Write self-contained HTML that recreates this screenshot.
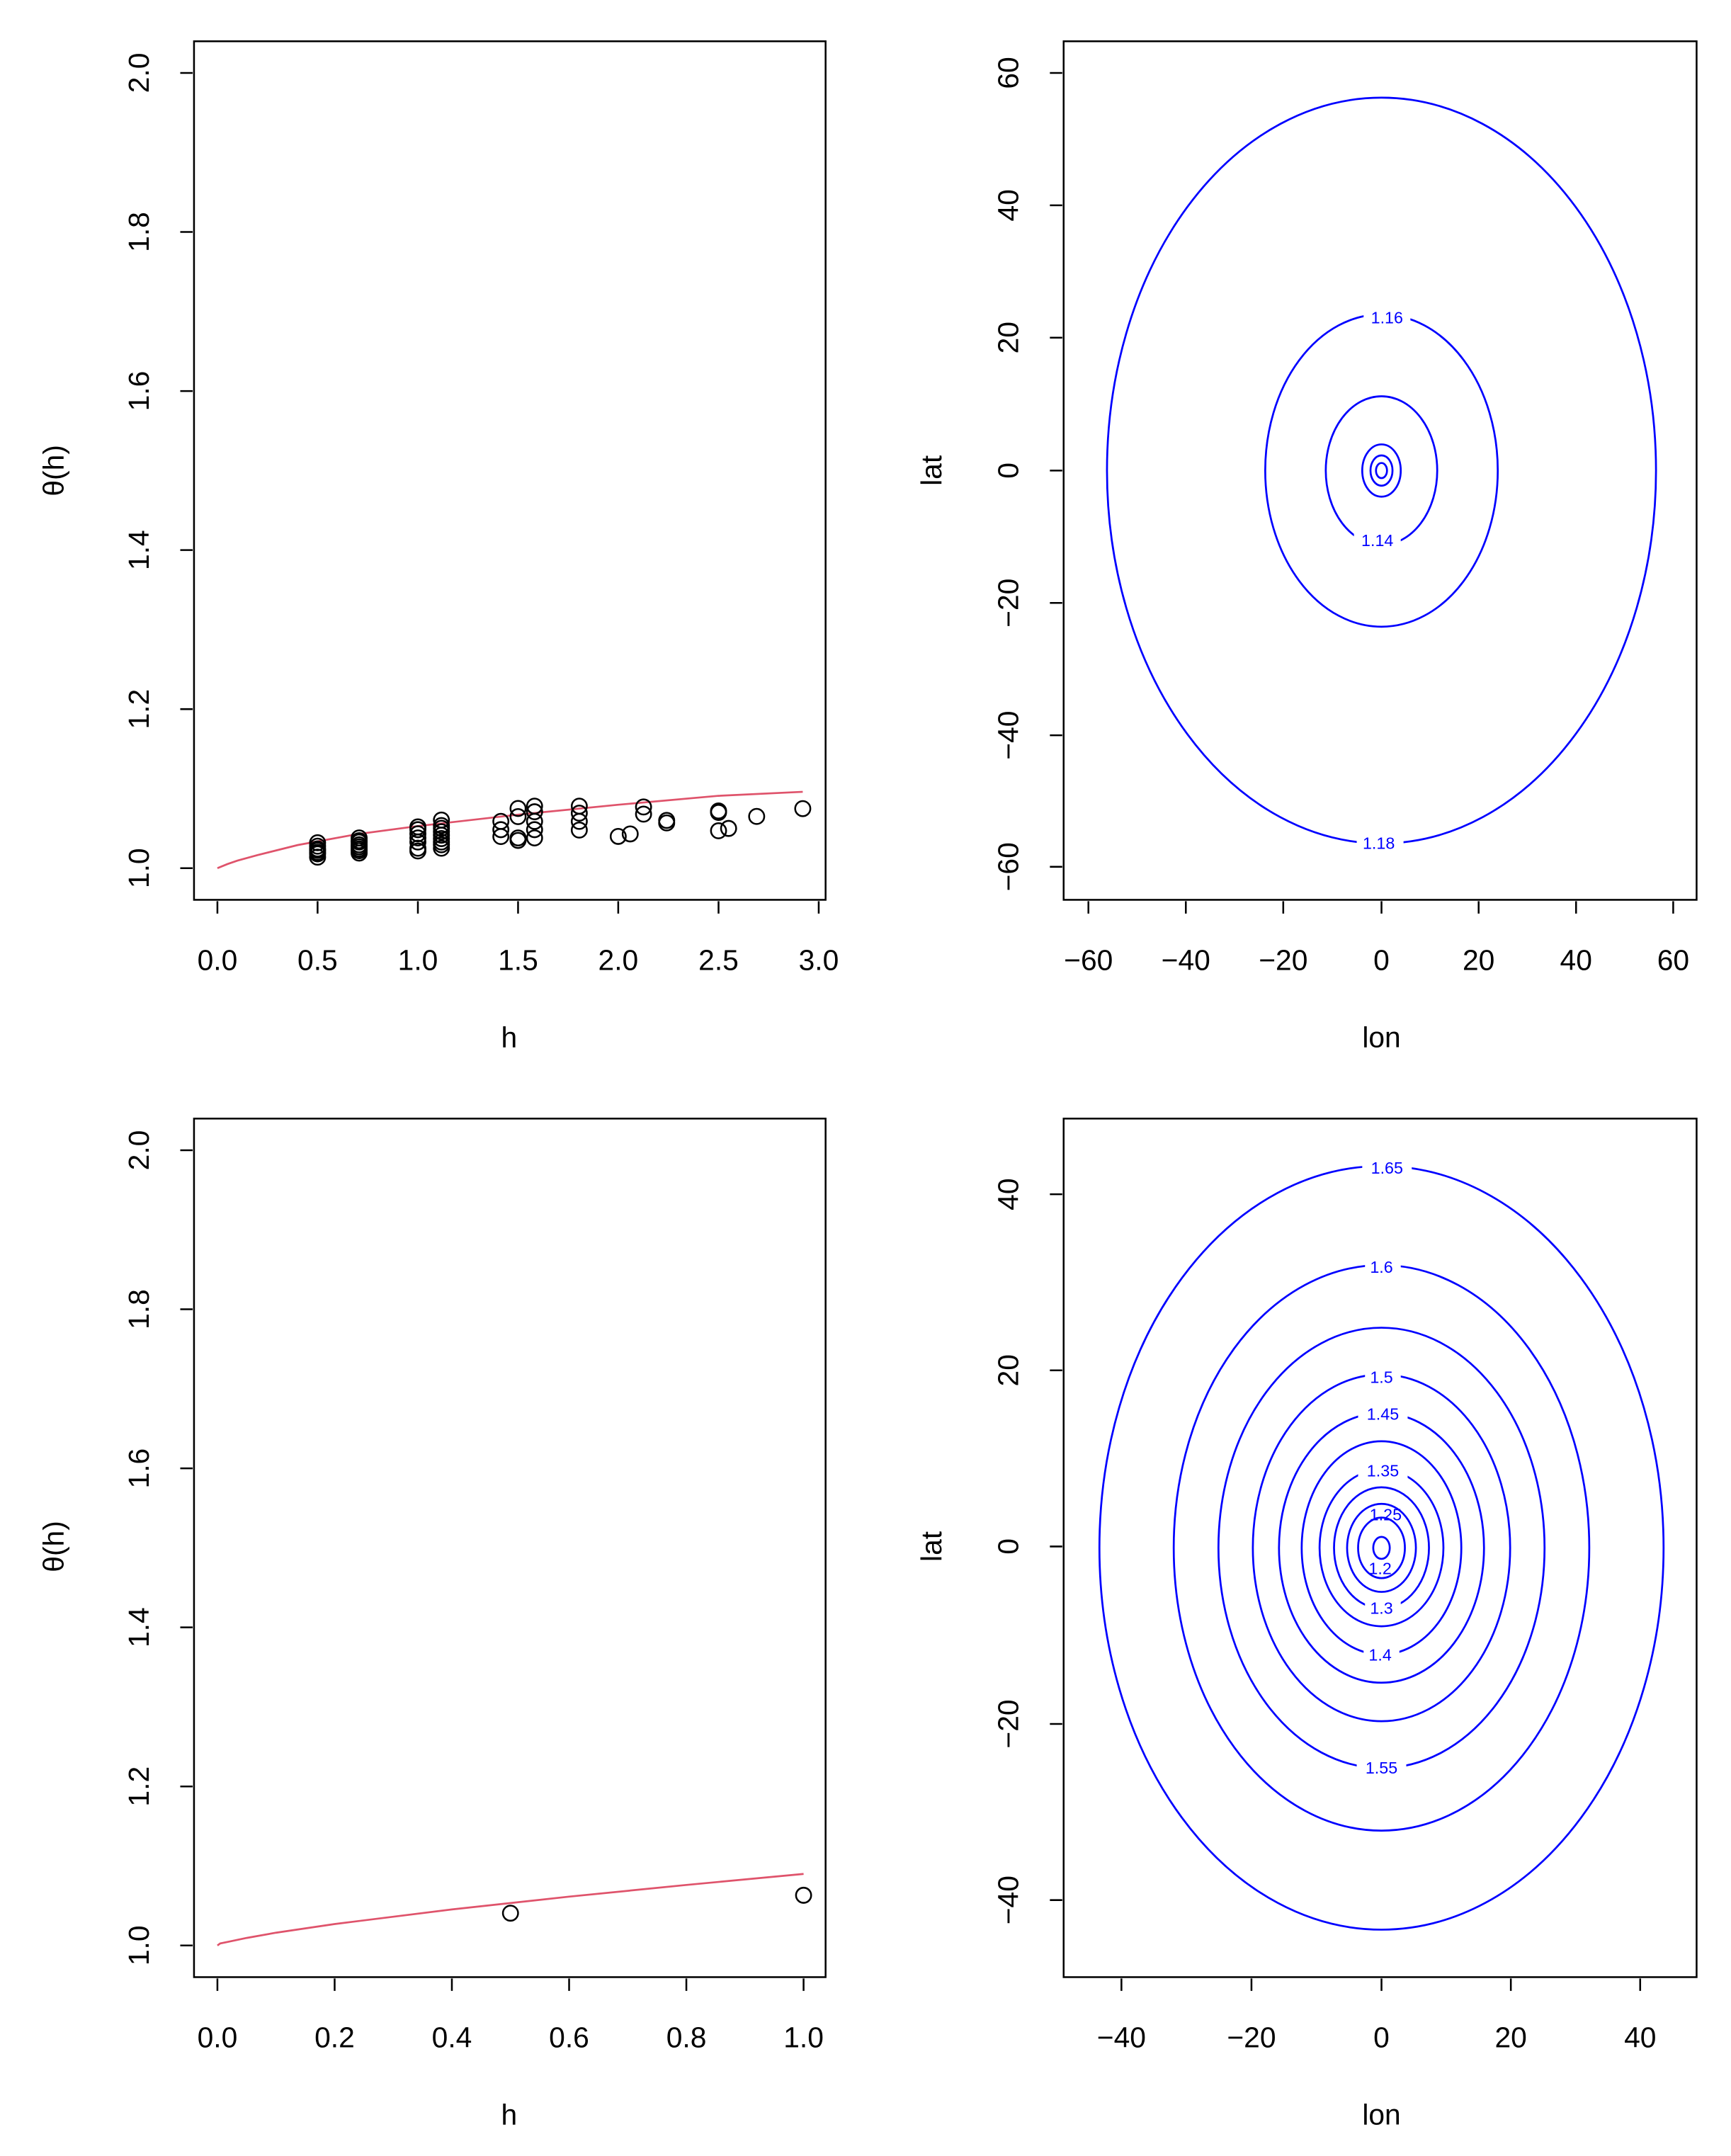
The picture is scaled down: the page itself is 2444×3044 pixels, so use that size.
<!DOCTYPE html>
<html><head><meta charset="utf-8"><style>html,body{margin:0;padding:0;background:#fff}svg{display:block}</style></head>
<body>
<svg width="2444" height="3044" viewBox="0 0 1258 1567" preserveAspectRatio="none" xmlns="http://www.w3.org/2000/svg" font-family="Liberation Sans, sans-serif">
<rect width="1258" height="1567" fill="#fff"/>
<g fill="none" stroke="#000" stroke-width="1.3">
<rect x="141" y="30" width="459" height="624"/>
<path d="M158,655v9M230.8,655v9M303.7,655v9M376.5,655v9M449.3,655v9M522.2,655v9M595,655v9"/>
<path d="M140,53h-9M140,168.6h-9M140,284.2h-9M140,399.8h-9M140,515.4h-9M140,631h-9"/>
<rect x="773" y="30" width="460" height="624"/>
<path d="M791,655v9M861.8,655v9M932.6,655v9M1004,655v9M1074.6,655v9M1145.4,655v9M1216,655v9"/>
<path d="M772,53h-9M772,149.2h-9M772,245.4h-9M772,342h-9M772,438.2h-9M772,534.4h-9M772,630h-9"/>
<rect x="141" y="813" width="459" height="624"/>
<path d="M158,1438v9M243.2,1438v9M328.4,1438v9M413.6,1438v9M498.8,1438v9M584,1438v9"/>
<path d="M140,836h-9M140,951.6h-9M140,1067.2h-9M140,1182.8h-9M140,1298.4h-9M140,1414h-9"/>
<rect x="773" y="813" width="460" height="624"/>
<path d="M815,1438v9M909.5,1438v9M1004,1438v9M1098,1438v9M1192,1438v9"/>
<path d="M772,868h-9M772,996h-9M772,1124h-9M772,1253h-9M772,1381h-9"/>
</g>
<g font-size="21" fill="#000" text-anchor="middle">
<text x="158" y="705">0.0</text><text x="230.8" y="705">0.5</text><text x="303.7" y="705">1.0</text><text x="376.5" y="705">1.5</text><text x="449.3" y="705">2.0</text><text x="522.2" y="705">2.5</text><text x="595" y="705">3.0</text>
<text x="370" y="761">h</text>
<text transform="translate(108,53) rotate(-90)">2.0</text><text transform="translate(108,168.6) rotate(-90)">1.8</text><text transform="translate(108,284.2) rotate(-90)">1.6</text><text transform="translate(108,399.8) rotate(-90)">1.4</text><text transform="translate(108,515.4) rotate(-90)">1.2</text><text transform="translate(108,631) rotate(-90)">1.0</text>
<text transform="translate(46,342) rotate(-90)">θ(h)</text>
<text x="791" y="705">−60</text><text x="861.8" y="705">−40</text><text x="932.6" y="705">−20</text><text x="1004" y="705">0</text><text x="1074.6" y="705">20</text><text x="1145.4" y="705">40</text><text x="1216" y="705">60</text>
<text x="1004" y="761">lon</text>
<text transform="translate(740,53) rotate(-90)">60</text><text transform="translate(740,149.2) rotate(-90)">40</text><text transform="translate(740,245.4) rotate(-90)">20</text><text transform="translate(740,342) rotate(-90)">0</text><text transform="translate(740,438.2) rotate(-90)">−20</text><text transform="translate(740,534.4) rotate(-90)">−40</text><text transform="translate(740,630) rotate(-90)">−60</text>
<text transform="translate(684,342) rotate(-90)">lat</text>
<text x="158" y="1488">0.0</text><text x="243.2" y="1488">0.2</text><text x="328.4" y="1488">0.4</text><text x="413.6" y="1488">0.6</text><text x="498.8" y="1488">0.8</text><text x="584" y="1488">1.0</text>
<text x="370" y="1544">h</text>
<text transform="translate(108,836) rotate(-90)">2.0</text><text transform="translate(108,951.6) rotate(-90)">1.8</text><text transform="translate(108,1067.2) rotate(-90)">1.6</text><text transform="translate(108,1182.8) rotate(-90)">1.4</text><text transform="translate(108,1298.4) rotate(-90)">1.2</text><text transform="translate(108,1414) rotate(-90)">1.0</text>
<text transform="translate(46,1124) rotate(-90)">θ(h)</text>
<text x="815" y="1488">−40</text><text x="909.5" y="1488">−20</text><text x="1004" y="1488">0</text><text x="1098" y="1488">20</text><text x="1192" y="1488">40</text>
<text x="1004" y="1544">lon</text>
<text transform="translate(740,868) rotate(-90)">40</text><text transform="translate(740,996) rotate(-90)">20</text><text transform="translate(740,1124) rotate(-90)">0</text><text transform="translate(740,1253) rotate(-90)">−20</text><text transform="translate(740,1381) rotate(-90)">−40</text>
<text transform="translate(684,1124) rotate(-90)">lat</text>
</g>
<polyline fill="none" stroke="#DF536B" stroke-width="1.4" points="158,631 165.3,628 172.6,625.5 187.1,621.5 216.3,614.2 260,606.2 303.7,600.4 376.5,592.1 449.3,584.9 522.2,578.4 583.4,575.5"/>
<g fill="none" stroke="#000" stroke-width="1.3">
<circle cx="230.8" cy="620.6" r="5.5"/><circle cx="230.8" cy="618" r="5.5"/><circle cx="230.8" cy="615" r="5.5"/><circle cx="230.8" cy="612.5" r="5.5"/><circle cx="230.8" cy="623" r="5.5"/><circle cx="230.8" cy="617" r="5.5"/><circle cx="230.8" cy="619.5" r="5.5"/>
<circle cx="261" cy="618.3" r="5.5"/><circle cx="261" cy="615.5" r="5.5"/><circle cx="261" cy="612" r="5.5"/><circle cx="261" cy="609" r="5.5"/><circle cx="261" cy="620" r="5.5"/><circle cx="261" cy="614" r="5.5"/><circle cx="261" cy="611" r="5.5"/><circle cx="261" cy="617" r="5.5"/>
<circle cx="303.7" cy="616.5" r="5.5"/><circle cx="303.7" cy="612" r="5.5"/><circle cx="303.7" cy="606" r="5.5"/><circle cx="303.7" cy="601" r="5.5"/><circle cx="303.7" cy="618.5" r="5.5"/><circle cx="303.7" cy="603" r="5.5"/><circle cx="303.7" cy="609" r="5.5"/>
<circle cx="320.8" cy="616.5" r="5.5"/><circle cx="320.8" cy="612" r="5.5"/><circle cx="320.8" cy="607" r="5.5"/><circle cx="320.8" cy="602" r="5.5"/><circle cx="320.8" cy="596" r="5.5"/><circle cx="320.8" cy="614" r="5.5"/><circle cx="320.8" cy="609.5" r="5.5"/><circle cx="320.8" cy="604.5" r="5.5"/><circle cx="320.8" cy="600" r="5.5"/>
<circle cx="364" cy="608" r="5.5"/><circle cx="364" cy="603" r="5.5"/><circle cx="364" cy="597" r="5.5"/>
<circle cx="376.5" cy="610.8" r="5.5"/><circle cx="376.5" cy="609" r="5.5"/><circle cx="376.5" cy="593.5" r="5.5"/><circle cx="376.5" cy="587.6" r="5.5"/>
<circle cx="388.5" cy="609" r="5.5"/><circle cx="388.5" cy="603" r="5.5"/><circle cx="388.5" cy="597" r="5.5"/><circle cx="388.5" cy="590" r="5.5"/><circle cx="388.5" cy="585.9" r="5.5"/>
<circle cx="421" cy="603.3" r="5.5"/><circle cx="421" cy="597" r="5.5"/><circle cx="421" cy="591" r="5.5"/><circle cx="421" cy="585.9" r="5.5"/>
<circle cx="449.3" cy="607.9" r="5.5"/><circle cx="458" cy="606.1" r="5.5"/>
<circle cx="467.7" cy="591.7" r="5.5"/><circle cx="467.7" cy="586.5" r="5.5"/>
<circle cx="484.5" cy="598.1" r="5.5"/><circle cx="484.5" cy="596.3" r="5.5"/>
<circle cx="522.2" cy="603.8" r="5.5"/><circle cx="522.2" cy="590.5" r="5.5"/><circle cx="522.2" cy="589.4" r="5.5"/>
<circle cx="529.5" cy="602.1" r="5.5"/><circle cx="549.9" cy="593.4" r="5.5"/><circle cx="583.4" cy="587.7" r="5.5"/>
</g>
<polyline fill="none" stroke="#DF536B" stroke-width="1.4" points="158,1414 160,1412.5 166.5,1411.2 179.3,1408.5 200.6,1404.7 243.2,1398.4 328.4,1387.8 413.6,1378.5 498.8,1370 584,1362"/>
<g fill="none" stroke="#000" stroke-width="1.3"><circle cx="371" cy="1390.5" r="5.5"/><circle cx="584" cy="1377.5" r="5.5"/></g>
<g fill="none" stroke="#0000FF" stroke-width="1.4">
<ellipse cx="1004" cy="342" rx="199.5" ry="271"/>
<ellipse cx="1004" cy="342" rx="84.5" ry="113.5"/>
<ellipse cx="1004" cy="342" rx="40.5" ry="54"/>
<ellipse cx="1004" cy="342" rx="14" ry="19"/>
<ellipse cx="1004" cy="342" rx="8" ry="11"/>
<ellipse cx="1004" cy="342" rx="4" ry="5.5"/>
</g>
<g font-size="12" fill="#0000FF" text-anchor="middle">
<rect x="986" y="605" width="34" height="14" fill="#fff"/><text x="1002" y="617">1.18</text>
<rect x="991" y="223" width="34" height="14" fill="#fff"/><text x="1008" y="235">1.16</text>
<rect x="984" y="385" width="34" height="14" fill="#fff"/><text x="1001" y="397">1.14</text>
</g>
<g fill="none" stroke="#0000FF" stroke-width="1.4">
<ellipse cx="1004" cy="1125" rx="205" ry="277.5"/>
<ellipse cx="1004" cy="1125" rx="151" ry="205.5"/>
<ellipse cx="1004" cy="1125" rx="118.5" ry="160"/>
<ellipse cx="1004" cy="1125" rx="93.5" ry="126"/>
<ellipse cx="1004" cy="1125" rx="74.5" ry="98"/>
<ellipse cx="1004" cy="1125" rx="58" ry="77.5"/>
<ellipse cx="1004" cy="1125" rx="45" ry="57"/>
<ellipse cx="1004" cy="1125" rx="34.5" ry="44"/>
<ellipse cx="1004" cy="1125" rx="25" ry="32"/>
<ellipse cx="1004" cy="1125" rx="17" ry="22"/>
<ellipse cx="1004" cy="1125" rx="6" ry="8"/>
</g>
<g font-size="12" fill="#0000FF" text-anchor="middle">
<rect x="990" y="841" width="36" height="14" fill="#fff"/><text x="1008" y="853">1.65</text>
<rect x="992" y="913" width="26" height="14" fill="#fff"/><text x="1004" y="925">1.6</text>
<rect x="986" y="1277" width="36" height="14" fill="#fff"/><text x="1004" y="1289">1.55</text>
<rect x="992" y="993" width="26" height="14" fill="#fff"/><text x="1004" y="1005">1.5</text>
<rect x="987" y="1020" width="36" height="14" fill="#fff"/><text x="1005" y="1032">1.45</text>
<rect x="991" y="1195" width="26" height="14" fill="#fff"/><text x="1003" y="1207">1.4</text>
<rect x="987" y="1061" width="36" height="14" fill="#fff"/><text x="1005" y="1073">1.35</text>
<rect x="992" y="1161" width="26" height="14" fill="#fff"/><text x="1004" y="1173">1.3</text>
<text x="1007" y="1105">1.25</text>
<text x="1003" y="1144">1.2</text>
</g>
</svg>
</body></html>
